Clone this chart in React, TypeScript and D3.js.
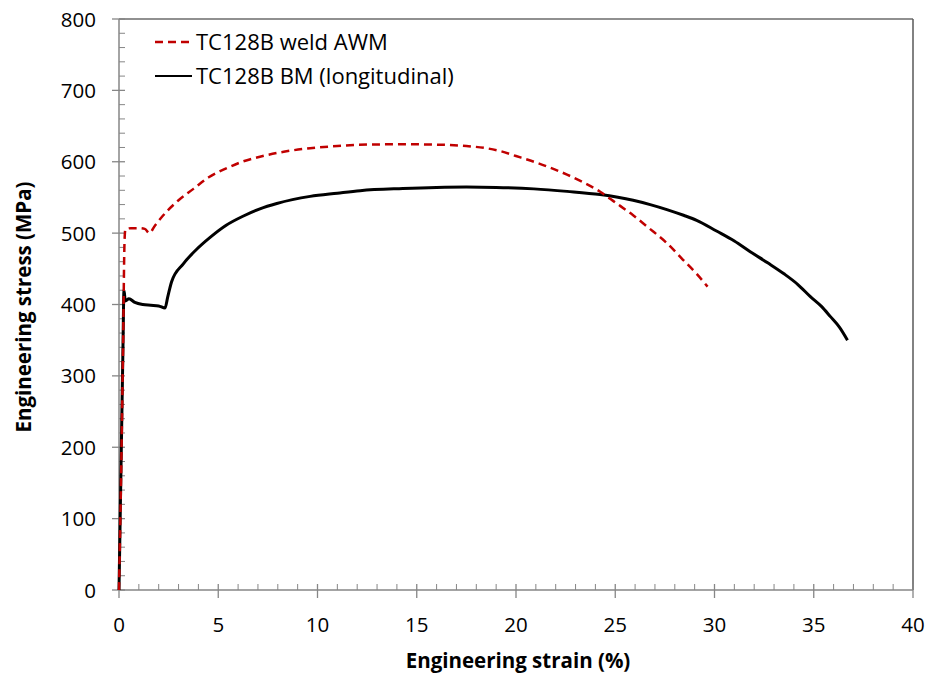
import React from "react";
import * as d3 from "d3";

const strainTicks = [0, 5, 10, 15, 20, 25, 30, 35, 40];
const stressTicks = [0, 100, 200, 300, 400, 500, 600, 700, 800];
const strainMinor = d3.range(0, 41, 1);
const stressMinor = d3.range(0, 801, 20);

const weldStrain = [0, 0.1, 0.2, 0.28, 0.32, 0.6, 1.0, 1.3, 1.53, 1.8, 2.23, 3.0, 3.75, 4.5, 5.43, 6.2, 7.1, 8.3, 9.63, 11, 12.5, 14.2, 16, 17.5, 18.5, 19.2, 20.0, 20.9, 21.7, 22.57, 23.4, 24.24, 25.0, 25.9, 26.7, 27.6, 28.4, 29.1, 29.65];
const weldStress = [0, 150, 330, 490, 505, 507, 507, 506, 500, 510, 525, 546, 562, 578, 591, 600, 607, 614, 619, 622, 624, 624.5, 624, 622, 619, 615, 608, 600, 592, 582, 571, 558, 543, 525, 507, 486, 463, 443, 425];

const bmStrain = [0, 0.1, 0.2, 0.25, 0.32, 0.5, 0.8, 1.2, 1.6, 2.0, 2.32, 2.45, 2.65, 3.24, 3.9, 4.59, 5.4, 6.27, 7.1, 7.95, 9.63, 11, 12.15, 14.3, 16, 17.5, 19, 20.9, 22.57, 24.24, 25.9, 26.76, 27.6, 28.44, 29.1, 30.1, 31, 31.8, 32.7, 33.5, 34.2, 34.83, 35.4, 35.84, 36.3, 36.7];
const bmStress = [0, 170, 340, 420, 405, 408, 403, 400, 399, 398, 395, 410, 432, 457, 477, 494, 511, 524, 534, 541.5, 551.5, 556, 559.5, 562.5, 564, 564.5, 564, 562, 558.5, 554, 546, 540, 533, 525, 518, 503, 489, 474, 458, 443, 428, 411, 397, 383, 368, 350];

const seriesNames = ["TC128B weld AWM", "TC128B BM (longitudinal)"];

const W = 928, H = 681;
const FONT = "'Open Sans', Lato, sans-serif";

export default function App() {
  const x = d3.scaleLinear().domain([0, 40]).range([119, 913]);
  const y = d3.scaleLinear().domain([0, 800]).range([590, 19]);
  const line = d3.line<[number, number]>().x(d => x(d[0])).y(d => y(d[1])).curve(d3.curveMonotoneX);
  const weld = weldStrain.map((s, i) => [s, weldStress[i]] as [number, number]);
  const bm = bmStrain.map((s, i) => [s, bmStress[i]] as [number, number]);
  const axisColor = "#868686";
  return (
    <svg width={W} height={H} style={{ position: "absolute", left: 0, top: 0, background: "#fff" }} fontFamily={FONT}>
      <rect x={0} y={0} width={W} height={H} fill="#fff" />
      {/* frame */}
      <line x1={x(0)} x2={x(40)} y1={y(800)} y2={y(800)} stroke="#6b6b6b" strokeWidth={1.5} />
      <line x1={x(40)} x2={x(40)} y1={y(800)} y2={y(0)} stroke="#595959" strokeWidth={1.5} />
      {/* minor ticks */}
      {strainMinor.filter(v => v % 5 !== 0).map(v => (
        <line key={"xm" + v} x1={x(v)} x2={x(v)} y1={y(0)} y2={y(0) - 6} stroke={axisColor} strokeWidth={1} />
      ))}
      {stressMinor.filter(v => v % 100 !== 0).map(v => (
        <line key={"ym" + v} x1={x(0)} x2={x(0) + 6} y1={y(v)} y2={y(v)} stroke={axisColor} strokeWidth={1} />
      ))}
      {/* major ticks */}
      {strainTicks.map(v => (
        <line key={"xM" + v} x1={x(v)} x2={x(v)} y1={y(0) - 6} y2={y(0) + 8} stroke={axisColor} strokeWidth={1.3} />
      ))}
      {stressTicks.map(v => (
        <line key={"yM" + v} x1={x(0) - 7} x2={x(0) + 6} y1={y(v)} y2={y(v)} stroke={axisColor} strokeWidth={1.3} />
      ))}
      {/* axes */}
      <line x1={x(0)} x2={x(40)} y1={y(0)} y2={y(0)} stroke={axisColor} strokeWidth={1.5} />
      <line x1={x(0)} x2={x(0)} y1={y(0)} y2={y(800)} stroke={axisColor} strokeWidth={1.5} />
      {/* tick labels */}
      {strainTicks.map(v => (
        <text key={"xl" + v} x={x(v)} y={632} textAnchor="middle" fontSize={20.5} fill="#000">{v}</text>
      ))}
      {stressTicks.map(v => (
        <text key={"yl" + v} x={96} y={y(v) + 7.5} textAnchor="end" fontSize={20.5} fill="#000">{v}</text>
      ))}
      {/* axis titles */}
      <text x={518} y={668} textAnchor="middle" fontSize={20.5} fontWeight="bold" fill="#000">Engineering strain (%)</text>
      <text transform={`translate(31,307) rotate(-90)`} textAnchor="middle" fontSize={20.5} fontWeight="bold" fill="#000">Engineering stress (MPa)</text>
      {/* series */}
      <path d={line(bm) || ""} fill="none" stroke="#000" strokeWidth={3} strokeLinejoin="round" />
      <path d={line(weld) || ""} fill="none" stroke="#C00000" strokeWidth={2.5} strokeDasharray="8,5" />
      {/* legend */}
      <line x1={155} x2={192} y1={42} y2={42} stroke="#C00000" strokeWidth={2.5} strokeDasharray="8,5" />
      <text x={196} y={50} fontSize={22} fill="#000">{seriesNames[0]}</text>
      <line x1={155} x2={192} y1={76} y2={76} stroke="#000" strokeWidth={2} />
      <text x={196} y={84} fontSize={22} fill="#000">{seriesNames[1]}</text>
    </svg>
  );
}
